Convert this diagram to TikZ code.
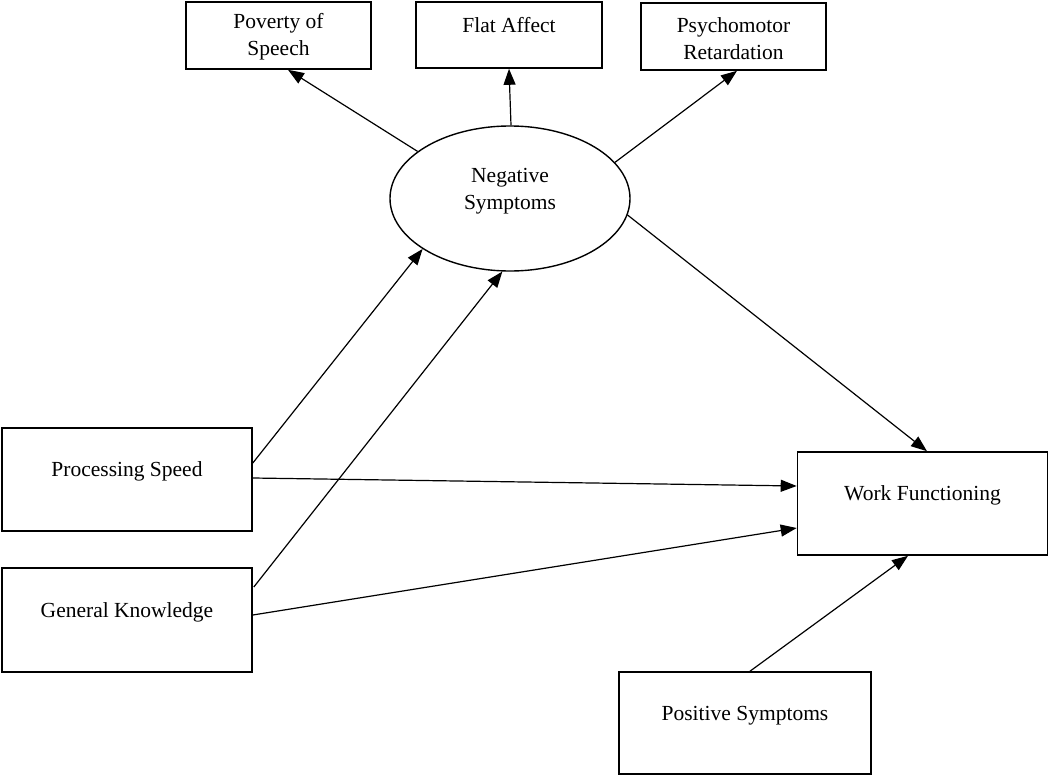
\documentclass[tikz,border=0pt]{standalone}
\usepackage{fontspec}
\setmainfont{Liberation Serif}
\usetikzlibrary{arrows.meta,shapes.geometric,calc}
\begin{document}
\begin{tikzpicture}[x=1pt,y=-1pt,
  every node/.style={font=\fontsize{21.5}{27}\selectfont},
  boxnode/.style={draw,line width=1.6pt,rectangle,inner sep=0pt},
  ellnode/.style={draw,line width=1.4pt,ellipse,inner sep=0pt,minimum width=240pt,minimum height=145pt},
  conn/.style={line width=1.2pt,-{Triangle[length=16pt,width=12pt]}},
  lbl/.style={align=center,inner sep=0pt}
]
\useasboundingbox (0,0) rectangle (1050,776);
% indicator boxes
\node[boxnode,minimum width=185pt,minimum height=67pt] (pov) at (278.5,35.5) {};
\node[lbl] (povt) at (278.5,36.5) {Poverty of\\Speech};
\node[boxnode,minimum width=186pt,minimum height=66pt] (flat) at (509,35) {};
\node[lbl] (flatt) at (509,25) {Flat Affect};
\node[boxnode,minimum width=185pt,minimum height=67pt] (psy) at (733.5,36.5) {};
\node[lbl] (psyt) at (733.5,38.5) {Psychomotor\\Retardation};
% latent
\node[ellnode] (neg) at (510,198.5) {};
\node[lbl] (negt) at (510,191.5) {Negative\\Symptoms};
% predictors
\node[boxnode,minimum width=250pt,minimum height=103pt] (proc) at (127,479.5) {};
\node[lbl] (proct) at (127,471) {Processing Speed};
\node[boxnode,minimum width=250pt,minimum height=104pt] (gen) at (127,620) {};
\node[lbl] (gent) at (127,612) {General Knowledge};
\node[boxnode,minimum width=250pt,minimum height=103pt] (work) at (922.5,503.5) {};
\node[lbl] (workt) at (922.5,495) {Work Functioning};
\node[boxnode,minimum width=252pt,minimum height=102pt] (pos) at (745,723) {};
\node[lbl] (post) at (745,716) {Positive Symptoms};
% connectors
\draw[conn] (neg.153) -- ($(pov.south)+(9.5,0)$);
\draw[conn] ($(neg.north)+(1,0)$) -- (flat.south);
\draw[conn] (neg.19) -- ($(psy.south)+(3.5,0)$);
\draw[conn] (neg.-8) -- ($(work.north)+(4.5,0)$);
\draw[conn] ($(proc.east)+(0,-16.5)$) -- (neg.210);
\draw[conn] ($(gen.east)+(1,-33)$) -- (neg.264);
\draw[conn] ($(proc.east)+(0,-1.5)$) -- ($(work.west)+(0,-17.5)$);
\draw[conn] ($(gen.east)+(0,-5)$) -- ($(work.west)+(0,24.5)$);
\draw[conn] ($(pos.north)+(5,0)$) -- ($(work.south)+(-14.5,0)$);
\end{tikzpicture}
\end{document}
